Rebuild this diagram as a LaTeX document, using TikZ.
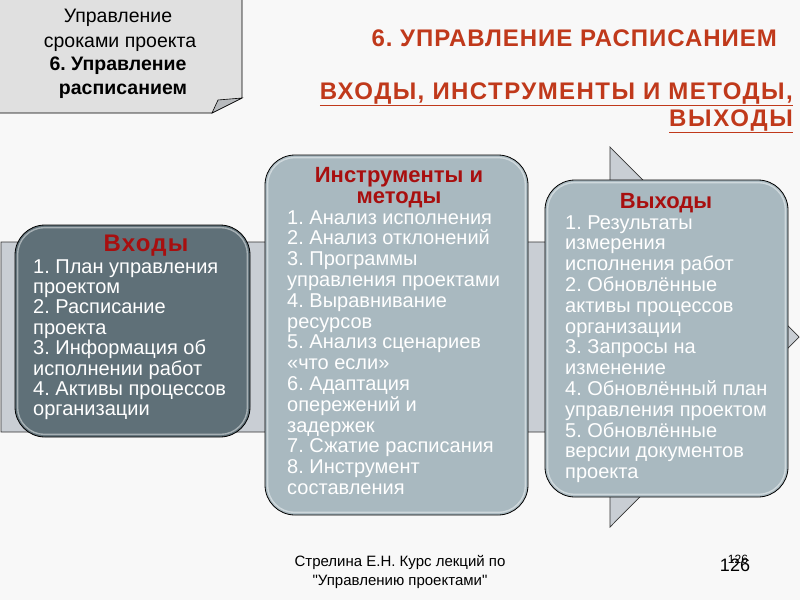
\documentclass[tikz,border=0pt]{standalone}
\usepackage{fontspec}
\setmainfont{Liberation Sans}
\frenchspacing
\definecolor{bg}{HTML}{F8F8F8}
\definecolor{titlered}{HTML}{C0391B}
\definecolor{headred}{HTML}{A80F0F}
\definecolor{darkbox}{HTML}{5F7078}
\definecolor{lightbox}{HTML}{A9B9C0}
\definecolor{band}{HTML}{C9CED4}
\definecolor{notefill}{HTML}{E0E0E0}
\definecolor{foldfill}{HTML}{B8BBBE}
\tikzset{
  arrowband/.style={fill=band, draw=black!80, line width=0.7pt, line join=miter},
  notebox/.style={fill=notefill, draw=black, line width=0.8pt},
  foldtri/.style={fill=foldfill, draw=black, line width=0.6pt},
  panel/.style={draw=black, line width=0.8pt, rounded corners=30pt, inner sep=0pt},
  glow/.style={draw=white, opacity=0.45, line width=1.4pt, rounded corners=27pt},
  itemtxt/.style={text=white, font=\fontsize{20}{21}\selectfont, inner sep=0pt, anchor=base west},
  headtxt/.style={text=headred, font=\bfseries\fontsize{22}{23}\selectfont, inner sep=0pt, anchor=base},
  notetxt/.style={text=black, font=\fontsize{19.5}{20}\selectfont, inner sep=0pt, anchor=base},
  titletxt/.style={text=titlered, inner sep=0pt, anchor=base east},
  foottxt/.style={text=black, font=\fontsize{15}{16}\selectfont, inner sep=0pt, anchor=base},
}
\begin{document}
\begin{tikzpicture}[x=1pt,y=-1pt]
\useasboundingbox (0,0) rectangle (800,600);
\fill[bg] (0,0) rectangle (800,600);

% big arrow band
\draw[arrowband] (1,242) -- (610,242) -- (610,147) -- (799,337) -- (610,527) -- (610,432) -- (1,432) -- cycle;

% note in the corner
\draw[notebox] (-1,-1) -- (242,-1) -- (242,98) -- (212,113) -- (-1,113) -- cycle;
\draw[foldtri] (212,113) -- (218,100) -- (242,98) -- cycle;
\node[notetxt] (n1) at (118,22) {Управление};
\node[notetxt] (n2) at (120,47) {сроками проекта};
\node[notetxt, font=\bfseries\fontsize{19.5}{20}\selectfont] (n3) at (118,70) {6. Управление};
\node[notetxt, font=\bfseries\fontsize{19.5}{20}\selectfont] (n4) at (123,94) {расписанием};

% titles
\node[titletxt, font=\bfseries\fontsize{24}{25}\selectfont\addfontfeature{LetterSpace=4}] (t1) at (777,46) {6. УПРАВЛЕНИЕ РАСПИСАНИЕМ};
\node[titletxt, font=\bfseries\fontsize{24}{25}\selectfont\addfontfeature{LetterSpace=6}] (t2) at (793,99) {\underline{ВХОДЫ, ИНСТРУМЕНТЫ И МЕТОДЫ,}};
\node[titletxt, font=\bfseries\fontsize{24}{25}\selectfont\addfontfeature{LetterSpace=7}] (t3) at (793,126) {\underline{ВЫХОДЫ}};

% panels
\node[panel, fill=darkbox, minimum width=235pt, minimum height=212pt] (inbox) at (132.5,331) {};
\draw[glow] ([shift={(3pt,-3pt)}]inbox.north west) rectangle ([shift={(-3pt,3pt)}]inbox.south east);
\node[panel, fill=lightbox, minimum width=263pt, minimum height=360pt] (toolbox) at (396.5,335) {};
\draw[glow] ([shift={(3pt,-3pt)}]toolbox.north west) rectangle ([shift={(-3pt,3pt)}]toolbox.south east);
\node[panel, fill=lightbox, minimum width=243pt, minimum height=317pt] (outbox) at (666.5,338.5) {};
\draw[glow] ([shift={(3pt,-3pt)}]outbox.north west) rectangle ([shift={(-3pt,3pt)}]outbox.south east);

% inputs
\node[headtxt, font=\bfseries\fontsize{24}{25}\selectfont\addfontfeature{LetterSpace=5}] (inh) at (146,251) {Входы};
\foreach \t [count=\i] in {1. План управления, проектом, 2. Расписание, проекта, 3. Информация об, исполнении работ, 4. Активы процессов, организации}
  \node[itemtxt] (in\i) at (33,{273+(\i-1)*20.4}) {\t};

% tools
\node[headtxt] (toh1) at (399,182) {Инструменты и};
\node[headtxt] (toh2) at (399,203) {методы};
\foreach \t [count=\i] in {1. Анализ исполнения, 2. Анализ отклонений, 3. Программы, управления проектами, 4. Выравнивание, ресурсов, 5. Анализ сценариев, «что если», 6. Адаптация, опережений и, задержек, 7. Сжатие расписания, 8. Инструмент, составления}
  \node[itemtxt] (to\i) at (287,{224+(\i-1)*20.8}) {\t};

% outputs
\node[headtxt] (ouh) at (666,208) {Выходы};
\foreach \t [count=\i] in {1. Результаты, измерения, исполнения работ, 2. Обновлённые, активы процессов, организации, 3. Запросы на, изменение, 4. Обновлённый план, управления проектом, 5. Обновлённые, версии документов, проекта}
  \node[itemtxt] (ou\i) at (565,{229+(\i-1)*20.8}) {\t};

% footer
\node[foottxt] (f1) at (400,566) {Стрелина Е.Н. Курс лекций по};
\node[foottxt] (f2) at (400,585) {\textquotedbl Управлению проектами\textquotedbl};
\node[foottxt, font=\fontsize{12}{14}\selectfont] (p1) at (738,563) {126};
\node[foottxt, font=\fontsize{18}{20}\selectfont] (p2) at (735,571) {126};
\end{tikzpicture}
\end{document}
